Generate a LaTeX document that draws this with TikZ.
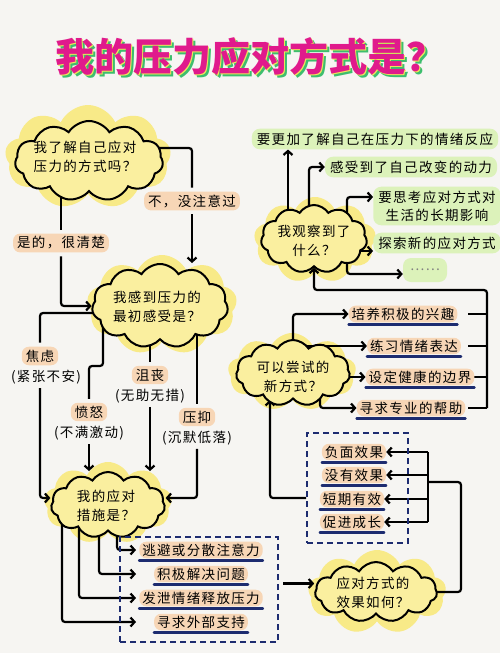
\documentclass[tikz,border=0pt]{standalone}
\usepackage{fontspec}
\newfontfamily\cjk{Noto Sans CJK SC}[LetterSpace=10]
\newfontfamily\cjkhead{Noto Sans CJK SC}
\usetikzlibrary{arrows}
\usetikzlibrary{positioning}
\usetikzlibrary{calc}
\usetikzlibrary{shapes.symbols}
\usetikzlibrary{arrows.meta}
\definecolor{paper}{HTML}{F6F5F2}
\definecolor{cloudfill}{HTML}{FAEF9F}
\definecolor{glowfill}{HTML}{F8EA88}
\definecolor{tagorange}{HTML}{F7D6B6}
\definecolor{leafgreen}{HTML}{DCF2BA}
\definecolor{navy}{HTML}{1D2C70}
\definecolor{headpink}{HTML}{E01A8C}
\definecolor{headgreen}{HTML}{3DBE6E}
\definecolor{headyellow}{HTML}{F3E45A}
\newcommand{\headline}{我的压力应对方式是？}
\pgfdeclarelayer{paper}
\pgfdeclarelayer{wires}
\pgfsetlayers{paper,wires,main}

\begin{document}
\begin{tikzpicture}[x=1pt,y=-1pt,>={Straight Barb[length=4pt,width=9pt]}]
				\tikzset{bubble/.style = {cloud, cloud puffs=11, cloud puff arc=115, cloud ignores aspect, draw, line width=2pt, fill=cloudfill, inner sep=0pt},
					glow/.style = {cloud, cloud puffs=9, cloud puff arc=130, cloud ignores aspect, fill=glowfill, inner sep=0pt},
					words/.style = {font=\cjk\fontsize{13.5}{19}\selectfont, align=center, inner sep=0pt},
					tag/.style = {words, fill=tagorange, rounded corners=7pt, inner xsep=4pt, inner ysep=3pt, outer sep=4pt},
					aside/.style = {words, outer sep=4pt},
					leaf/.style = {words, fill=leafgreen, rounded corners=8pt, inner xsep=5pt, inner ysep=4pt},
					pick/.style = {words, fill=tagorange, rounded corners=7pt, inner xsep=3pt, inner ysep=2pt},
					uline/.style = {draw=navy, line width=2.4pt, line cap=round},
					dbox/.style = {draw=navy, line width=2pt, dash pattern=on 6pt off 4pt},
					wire/.style = {line width=2.2pt, rounded corners=3pt}}
				\useasboundingbox (0,0) rectangle (500,653);
				
				\begin{pgfonlayer}{paper}
				\fill[paper] (0,0) rectangle (500,653);
				\node[glow, minimum width=166pt, minimum height=104pt] (KNOWg) at (88,157) {};
				\node[glow, minimum width=150pt, minimum height=100pt] (FEELg) at (162,305) {};
				\node[glow, minimum width=128pt, minimum height=82pt] (COPEg) at (108,503) {};
				\node[glow, minimum width=122pt, minimum height=86pt] (OBSg) at (315,240) {};
				\node[glow, minimum width=128pt, minimum height=78pt] (TRYg) at (292,372) {};
				\node[glow, minimum width=138pt, minimum height=84pt] (EFFg) at (377,592) {};
				\end{pgfonlayer}
				
				\node[font=\cjkhead\bfseries\fontsize{39}{44}\selectfont] (HEAD) at (250,58)
				{\rlap{\kern3pt\raisebox{-3pt}{\color{headgreen}\headline}}\rlap{\kern1.5pt\raisebox{-1.5pt}{\color{headyellow}\headline}}\color{headpink}\headline};
				
				\node[bubble, minimum width=148pt, minimum height=80pt] (KNOW) at (89,161) {};
				\node[words] (KNOWq) at (85,157) {我了解自己应对\\压力的方式吗？};
				\node[bubble, minimum width=136pt, minimum height=84pt] (FEEL) at (160,306) {};
				\node[words] (FEELq) at (157,307) {我感到压力的\\最初感受是？};
				\node[bubble, minimum width=114pt, minimum height=66pt] (COPE) at (108,505) {};
				\node[words] (COPEq) at (106,506) {我的应对\\措施是？};
				\node[bubble, minimum width=106pt, minimum height=68pt] (OBS) at (314,239) {};
				\node[words] (OBSq) at (314,241) {我观察到了\\什么？};
				\node[bubble, minimum width=114pt, minimum height=66pt] (TRY) at (293,373) {};
				\node[words] (TRYq) at (293,377) {可以尝试的\\新方式？};
				\node[bubble, minimum width=122pt, minimum height=60pt] (EFF) at (376,592) {};
				\node[words] (EFFq) at (373,593) {应对方式的\\效果如何？};
				
				\node[tag] (YES) at (61,243) {是的，很清楚};
				\node[tag] (NO) at (192,201) {不，没注意过};
				\node[tag] (ANX) at (40,356) {焦虑};
				\node[aside] (ANXP) at (46,377) {(紧张不安)};
				\node[tag] (ANG) at (89,412) {愤怒};
				\node[aside] (ANGP) at (89,433) {(不满激动)};
				\node[tag] (DEJ) at (150,375) {沮丧};
				\node[aside] (DEJP) at (150,396) {(无助无措)};
				\node[tag] (DEP) at (197,417) {压抑};
				\node[aside] (DEPP) at (197,438) {(沉默低落)};
				
				\node[leaf] (MORE) at (375,139) {要更加了解自己在压力下的情绪反应};
				\node[leaf] (MOTIV) at (411,167) {感受到了自己改变的动力};
				\node[leaf, font=\cjk\fontsize{13.5}{18}\selectfont] (LONG) at (437,206) {要思考应对方式对\\生活的长期影响};
				\node[leaf] (EXPL) at (437,243) {探索新的应对方式};
				\node[leaf, minimum width=44pt, minimum height=24pt, text=gray] (DOTS) at (425,270) {……};
				
				\node[pick] (INT) at (403,314) {培养积极的兴趣};
				\node[pick] (EXPR) at (414,346) {练习情绪表达};
				\node[pick] (BOUND) at (420,377) {设定健康的边界};
				\node[pick] (HELP) at (411,408) {寻求专业的帮助};
				
				\node[dbox, minimum width=101pt, minimum height=110pt] (EBOX) at (357.5,488) {};
				\node[pick] (NEG) at (354,452) {负面效果};
				\node[pick] (NONE) at (354,475) {没有效果};
				\node[pick] (SHORT) at (352,499) {短期有效};
				\node[pick] (GROW) at (352,522) {促进成长};
				
				\node[dbox, minimum width=158pt, minimum height=105pt] (CBOX) at (199,589.5) {};
				\node[pick] (AVOID) at (201,550) {逃避或分散注意力};
				\node[pick] (SOLVE) at (201,574) {积极解决问题};
				\node[pick] (VENT) at (201,598) {发泄情绪释放压力};
				\node[pick] (SUPP) at (201,622) {寻求外部支持};
				
				\foreach \n in {INT,EXPR,BOUND,HELP,NEG,NONE,SHORT,GROW,AVOID,SOLVE,VENT,SUPP}
				\draw[uline] ([yshift=-2pt]\n.south west) -- ([yshift=-2pt]\n.south east);
				
				\coordinate (ANGJ) at (103,366);
				\coordinate (BRT) at (487,290);
				\coordinate (BRB) at (487,408);
				\coordinate (SPLIT) at (428,482);
				\coordinate (TURN) at (461,482);
				
				\begin{pgfonlayer}{wires}
				\draw[wire] (KNOW.center -| YES) -- (YES);
				\draw[wire,->] (YES) |- (FEEL.west);
				\draw[wire] ([yshift=13pt]KNOW.center) -| (NO);
				\draw[wire,->] (NO) -- (NO |- FEEL.north);
				
				\draw[wire] ([yshift=-7pt]FEEL.center) -| (ANX);
				\draw[wire,->] (ANXP.south -| ANX) |- ([yshift=7pt]COPE.west);
				\draw[wire] (ANGJ |- FEEL.center) -- (ANGJ) -| (ANG);
				\draw[wire,->] (ANGP) -- (ANGP |- COPE.north);
				\draw[wire] (FEEL.center -| DEJ) -- (DEJ);
				\draw[wire,->] (DEJP) -- (DEJP |- COPE.north);
				\draw[wire] (FEEL.center -| DEP) -- (DEP);
				\draw[wire,->] (DEPP) |- ([yshift=7pt]COPE.east);
				
				\foreach \n/\dx in {AVOID/9,SOLVE/-9,VENT/-29,SUPP/-46}
				\draw[wire,->] ($(COPE.center)+(\dx,0)$) |- ($(CBOX.west |- \n)+(17,0)$);
				\draw[wire,->] ($(CBOX.east)+(4,-6)$) -- ($(CBOX.east -| EFF.west)+(0,-6)$);
				
				\draw[wire] ($(EFF.east)+(-4,0)$) -| (TURN) -- (SPLIT);
				\draw[wire] (NEG.east -| SPLIT) -- (GROW.east -| SPLIT);
				\foreach \n in {NEG,NONE,SHORT,GROW}
				\draw[wire,->] (\n.east -| SPLIT) -- (\n.east);
				\draw[wire,->] ($(EBOX.west)+(0,10)$) -| ($(TRY.south)+(-23,0)$);
				
				\draw[wire,->] (TRY.center) |- (INT.west);
				\draw[wire,->] (TRY.center |- EXPR.west) -- (EXPR.west);
				\draw[wire,->] (TRY.center |- BOUND.west) -- (BOUND.west);
				\draw[wire,->] ($(TRY.center)+(27,0)$) |- (HELP.west);
				\foreach \n in {INT,EXPR,BOUND,HELP}
				\draw[wire] ($(\n.east -| BRT)+(-19,0)$) -- (\n.east -| BRT);
				\draw[wire,->] (BRB) -- (BRT) -| (OBS.south);
				
				\draw[wire,->] ($(OBS.center)+(-26,0)$) -- ($(OBS.center |- MORE.south)+(-26,0)$);
				\draw[wire,->] ($(OBS.center)+(-5,0)$) |- (MOTIV.west);
				\draw[wire,->] ($(OBS.center)+(33,0)$) |- ($(LONG.west)+(0,-9)$);
				\draw[wire,->] ($(EXPL.west -| OBS.center)+(0,8)$) -- ($(EXPL.west)+(0,8)$);
				\draw[wire,->] ($(OBS.center)+(33,0)$) |- ($(DOTS.west)+(0,4)$);
				\end{pgfonlayer}
				
				\end{tikzpicture}
\end{document}
